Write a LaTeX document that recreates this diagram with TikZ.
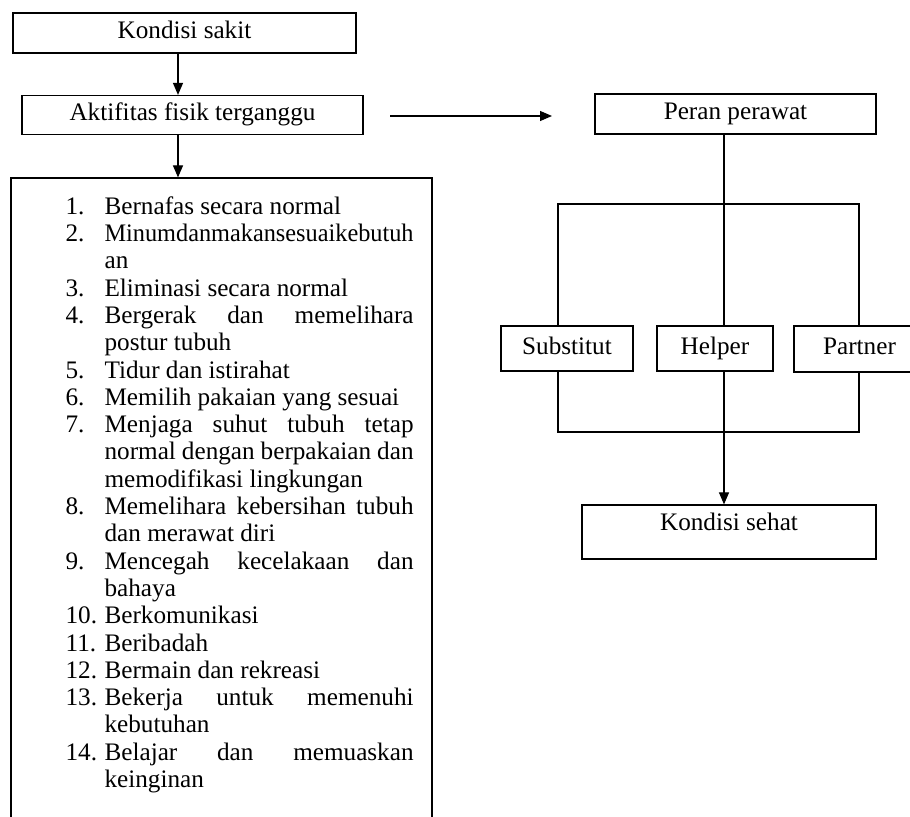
\documentclass[tikz,border=0pt]{standalone}
\usepackage{fontspec}
\setmainfont{Liberation Serif}
\usepackage{graphicx}
\usepackage{tikz}
\usetikzlibrary{positioning, calc, arrows.meta}

\newcommand{\nitem}[2]{\par\hangindent=19.5pt\hangafter=1\noindent\makebox[19.5pt][l]{#1}#2}

\begin{document}
\begin{tikzpicture}[x=0.5pt, y=-0.5pt, line width=0.6pt, font=\fontsize{12.6}{13.65}\selectfont]
	\tikzstyle{boxc}=[rectangle, draw=black, line width=0.6pt, inner sep=1pt, text height=8.6pt, text depth=2.6pt, fill=none]
	\tikzstyle{arr}=[-{Triangle[length=6pt,width=5pt]}]
	\useasboundingbox (0,0) rectangle (910,817);
	\clip (0,0) rectangle (910,817);
	
	\node (k0) at (184.5,33) [boxc, minimum width=171.5pt, minimum height=20pt] {Kondisi sakit};
	\node (k1) at (192.5,115) [boxc, minimum width=170.5pt, minimum height=19.5pt] {Aktifitas fisik terganggu};
	\node (k2) at (221.5,504) [boxc, minimum width=210.5pt, minimum height=326pt] {};
	
	\coordinate (a0) at (178,0);
	\draw[arr] (k0.south -| a0) -- (k1.north -| a0);
	\draw[arr] (k1.south -| a0) -- (k2.north -| a0);
	
	\node (l0) at (65,187) [anchor=base west, text width=174pt, align=justify, inner sep=0pt] {%
		\tolerance=10000 \hyphenpenalty=10000
		\nitem{1.}{Bernafas secara normal}
		\nitem{2.}{\resizebox{154.5pt}{\height}{Minumdanmakansesuaikebutuh}\newline an}
		\nitem{3.}{Eliminasi secara normal}
		\nitem{4.}{Bergerak dan memelihara\linebreak postur tubuh}
		\nitem{5.}{Tidur dan istirahat}
		\nitem{6.}{Memilih pakaian yang sesuai}
		\nitem{7.}{Menjaga suhut tubuh tetap\linebreak normal dengan berpakaian dan\linebreak memodifikasi lingkungan}
		\nitem{8.}{Memelihara kebersihan tubuh\linebreak dan merawat diri}
		\nitem{9.}{Mencegah kecelakaan dan\linebreak bahaya}
		\nitem{10.}{Berkomunikasi}
		\nitem{11.}{Beribadah}
		\nitem{12.}{Bermain dan rekreasi}
		\nitem{13.}{Bekerja untuk memenuhi\linebreak kebutuhan}
		\nitem{14.}{Belajar dan memuaskan\linebreak keinginan}\par};
	
	\coordinate (h0) at (390,116);
	\coordinate (h1) at (552,116);
	\draw[arr] (h0) -- (h1);
	
	\node (p0) at (735.5,114) [boxc, minimum width=140.5pt, minimum height=20pt] {Peran perawat};
	
	\node (p10) at (567,348.5) [boxc, minimum width=66pt, minimum height=22.5pt] {Substitut};
	\node (p11) at (715,348.5) [boxc, minimum width=58pt, minimum height=22.5pt] {Helper};
	\node (p12) at (859.5,349) [boxc, minimum width=65.5pt, minimum height=23pt] {Partner};
	
	\node (p2) at (729,532) [boxc, minimum width=147pt, minimum height=27pt] {\raisebox{3.5pt}[\height][\depth]{Kondisi sehat}};
	
	\coordinate (s0) at (724,204);
	\coordinate (j0) at (558,204);
	\coordinate (j1) at (859,204);
	\coordinate (m0) at (558,432);
	\coordinate (m1) at (859,432);
	
	\draw (p0.south -| s0) -- (s0);
	\draw (p10.north -| j0) -- (j0) -- (j1) -- (p12.north -| j1);
	\draw (s0) -- (p11.north -| s0);
	
	\draw (p10.south -| m0) -- (m0) -- (m1) -- (p12.south -| m1);
	\draw[arr] (p11.south -| s0) -- (p2.north -| s0);
\end{tikzpicture}
\end{document}
